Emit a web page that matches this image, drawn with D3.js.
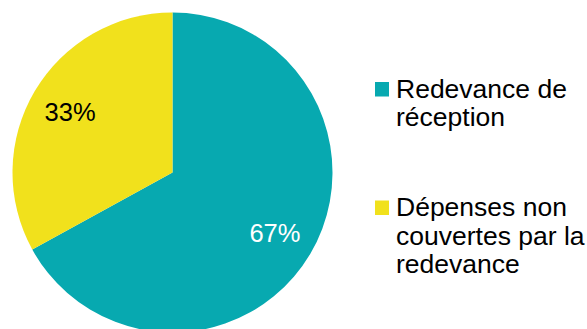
<!DOCTYPE html>
<html>
<head>
<meta charset="utf-8">
<script src="https://cdn.jsdelivr.net/npm/d3@7"></script>
<style>
  html, body { margin: 0; padding: 0; background: #fff; }
  svg { display: block; font-family: "Liberation Sans", Arial, sans-serif; }
</style>
</head>
<body>
<svg width="587" height="329"></svg>
<script>
// data
var categories = ["Redevance de réception", "Dépenses non couvertes par la redevance"];
var values = [67, 33];
var legendLines = [["Redevance de", "réception"], ["Dépenses non", "couvertes par la", "redevance"]];
var colors = ["#07A9B0", "#F1E11C"];
var labelColors = ["#ffffff", "#000000"];

var svg = d3.select("svg"),
    cx = 172.5, cy = 172.5, radius = 160;

var color = d3.scaleOrdinal().domain(categories).range(colors);

var pie = d3.pie().sort(null).value(function (d) { return d.value; });
var arc = d3.arc().innerRadius(0).outerRadius(radius);
var labelArc = d3.arc().innerRadius(119).outerRadius(119);

var data = categories.map(function (c, i) { return {name: c, value: values[i], idx: i}; });

var g = svg.append("g").attr("transform", "translate(" + cx + "," + cy + ")");

g.selectAll("path.slice")
    .data(pie(data))
    .enter().append("path")
    .attr("class", "slice")
    .attr("d", arc)
    .attr("fill", function (d) { return color(d.data.name); });

g.selectAll("text.pct")
    .data(pie(data))
    .enter().append("text")
    .attr("class", "pct")
    .attr("transform", function (d) { return "translate(" + labelArc.centroid(d) + ")"; })
    .attr("text-anchor", "middle")
    .attr("dy", "0.35em")
    .style("font-size", "25.5px")
    .attr("fill", function (d) { return labelColors[d.data.idx]; })
    .text(function (d) { return d.data.value + "%"; });

// legend
var legendTop = [97.5, 216];
var legend = svg.selectAll("g.legend")
    .data(data)
    .enter().append("g")
    .attr("class", "legend");

legend.append("rect")
    .attr("x", 375)
    .attr("y", function (d, i) { return legendTop[i] - 15.5; })
    .attr("width", 14)
    .attr("height", 14.5)
    .attr("fill", function (d) { return color(d.name); });

legend.each(function (d, i) {
    var t = d3.select(this).append("text")
        .attr("x", 396)
        .attr("y", legendTop[i])
        .style("font-size", "26.5px")
        .attr("fill", "#000");
    legendLines[i].forEach(function (line, j) {
        t.append("tspan")
            .attr("x", 396)
            .attr("y", legendTop[i] + j * 28.5)
            .text(line);
    });
});
</script>
</body>
</html>
